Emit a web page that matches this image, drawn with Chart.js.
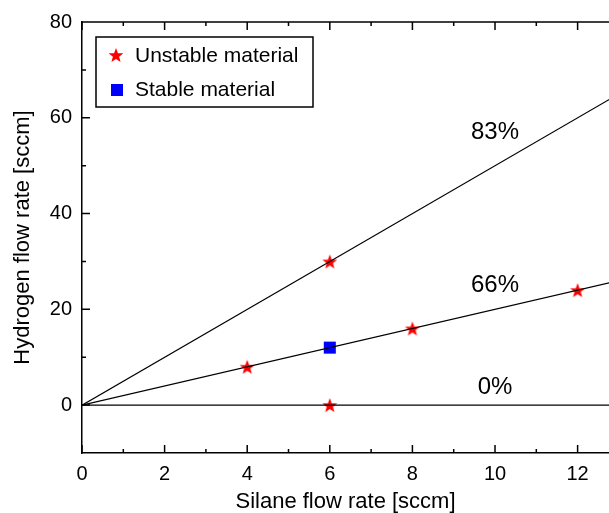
<!DOCTYPE html>
<html>
<head>
<meta charset="utf-8">
<script src="https://cdn.jsdelivr.net/npm/chart.js@4.4.1/dist/chart.umd.min.js"></script>
<style>
    html, body { margin: 0; padding: 0; background: #fff; }
    #wrap { width: 609px; height: 513px; }
</style>
</head>
<body>
<div id="wrap"><canvas id="chart" width="609" height="513"></canvas></div>
<script>
(() => {
    const xTicks = [0, 2, 4, 6, 8, 10, 12];
    const xMinorTicks = [1, 3, 5, 7, 9, 11];
    const yTicks = [0, 20, 40, 60, 80];
    const yMinorTicks = [10, 30, 50, 70];

    const unstableX = [4, 6, 6, 8, 12];
    const unstableY = [8, 30, 0, 16, 24];
    const stableX = [6];
    const stableY = [12];

    // dilution lines, all from the origin
    const ratioLabels = ['83%', '66%', '0%'];
    const ratioEndX = [13, 13, 13];
    const ratioEndY = [65, 26, 0];
    const ratioLabelX = [10, 10, 10];
    const ratioLabelY = [57, 25, 3.7];

    const FONT = '"Liberation Sans", Arial, Helvetica, sans-serif';

    function makeStar(r, color) {
        const size = Math.ceil(r * 2 + 2);
        const c = document.createElement('canvas');
        c.width = size;
        c.height = size;
        const g = c.getContext('2d');
        const cx = size / 2, cy = size / 2 + r * 0.1;
        g.beginPath();
        for (let i = 0; i < 10; i++) {
            const rad = i % 2 === 0 ? r : r * 0.42;
            const a = -Math.PI / 2 + i * Math.PI / 5;
            const px = cx + rad * Math.cos(a), py = cy + rad * Math.sin(a);
            if (i === 0) g.moveTo(px, py); else g.lineTo(px, py);
        }
        g.closePath();
        g.fillStyle = color;
        g.fill();
        return c;
    }

    const star = makeStar(7.8, '#ff0000');

    const toPts = (xs, ys) => xs.map((v, i) => ({ x: v, y: ys[i] }));

    const lineSets = ratioLabels.map((lab, i) => ({
        label: lab,
        data: [{ x: 0, y: 0 }, { x: ratioEndX[i], y: ratioEndY[i] }],
        borderColor: '#000',
        borderWidth: 1.2,
        pointRadius: 0,
        showLine: true,
        fill: false
    }));

    const frame = {
        id: 'frame',
        afterDraw(chart) {
            const { ctx, chartArea: a, scales: { x, y } } = chart;
            ctx.save();
            ctx.strokeStyle = '#000';
            ctx.lineWidth = 1.5;
            ctx.beginPath();
            ctx.moveTo(a.left, a.top);
            ctx.lineTo(a.right, a.top);
            const tick = (list, len) => {
                list.forEach(v => {
                    const px = x.getPixelForValue(v);
                    ctx.moveTo(px, a.bottom);
                    ctx.lineTo(px, a.bottom - len);
                    ctx.moveTo(px, a.top);
                    ctx.lineTo(px, a.top + len);
                });
            };
            tick(xTicks, 8);
            tick(xMinorTicks, 4);
            yTicks.forEach(v => {
                const py = y.getPixelForValue(v);
                ctx.moveTo(a.left, py);
                ctx.lineTo(a.left + 8, py);
            });
            yMinorTicks.forEach(v => {
                const py = y.getPixelForValue(v);
                ctx.moveTo(a.left, py);
                ctx.lineTo(a.left + 4, py);
            });
            ctx.stroke();

            // percentage labels
            ctx.fillStyle = '#000';
            ctx.font = '24px ' + FONT;
            ctx.textAlign = 'center';
            ctx.textBaseline = 'middle';
            ratioLabels.forEach((lab, i) => {
                ctx.fillText(lab, x.getPixelForValue(ratioLabelX[i]), y.getPixelForValue(ratioLabelY[i]));
            });

            // legend box
            const bx = a.left + 14, by = a.top + 15;
            ctx.lineWidth = 1.5;
            ctx.strokeRect(bx, by, 217, 70);
            ctx.drawImage(star, bx + 20 - star.width / 2, by + 18 - star.height / 2);
            ctx.fillStyle = '#0000ff';
            ctx.fillRect(bx + 15, by + 47, 12, 12);
            ctx.fillStyle = '#000';
            ctx.font = '21px ' + FONT;
            ctx.textAlign = 'left';
            ctx.fillText('Unstable material', bx + 39, by + 19);
            ctx.fillText('Stable material', bx + 39, by + 53);
            ctx.restore();
        }
    };

    new Chart(document.getElementById('chart'), {
        type: 'scatter',
        data: {
            datasets: [
                ...lineSets,
                {
                    label: 'Unstable material',
                    data: toPts(unstableX, unstableY),
                    pointStyle: star,
                    pointRadius: 8,
                    showLine: false
                },
                {
                    label: 'Stable material',
                    data: toPts(stableX, stableY),
                    pointStyle: 'rect',
                    pointRadius: 8.5,
                    backgroundColor: '#0000ff',
                    borderWidth: 0,
                    showLine: false
                }
            ]
        },
        options: {
            responsive: false,
            animation: false,
            devicePixelRatio: 1,
            layout: { autoPadding: false, padding: { top: 22, right: 0, left: 0, bottom: 0 } },
            plugins: {
                legend: { display: false },
                tooltip: { enabled: false }
            },
            scales: {
                x: {
                    type: 'linear',
                    min: 0,
                    max: 12.76,
                    afterFit: s => {
                        s.height = 60;
                        s.paddingLeft = 0;
                        s.paddingRight = 0;
                    },
                    afterBuildTicks: s => { s.ticks = xTicks.map(v => ({ value: v })); },
                    grid: { display: false, drawTicks: false },
                    border: { display: true, color: '#000', width: 1.5 },
                    ticks: { color: '#000', padding: 9, font: { family: FONT, size: 20 } },
                    title: {
                        display: true,
                        text: 'Silane flow rate [sccm]',
                        color: '#000',
                        font: { family: FONT, size: 22, lineHeight: 1 },
                        padding: { top: 0, bottom: 0 }
                    }
                },
                y: {
                    type: 'linear',
                    min: -10,
                    max: 80,
                    afterFit: s => {
                        s.width = 82;
                        s.paddingTop = 0;
                        s.paddingBottom = 0;
                    },
                    afterBuildTicks: s => { s.ticks = yTicks.map(v => ({ value: v })); },
                    grid: { display: false, drawTicks: false },
                    border: { display: true, color: '#000', width: 1.5 },
                    ticks: { color: '#000', padding: 10, font: { family: FONT, size: 20 } },
                    title: {
                        display: true,
                        text: 'Hydrogen flow rate [sccm]',
                        color: '#000',
                        font: { family: FONT, size: 22, lineHeight: 1 },
                        padding: { top: 12, bottom: 0 }
                    }
                }
            }
        },
        plugins: [frame]
    });
})();
</script>
</body>
</html>
